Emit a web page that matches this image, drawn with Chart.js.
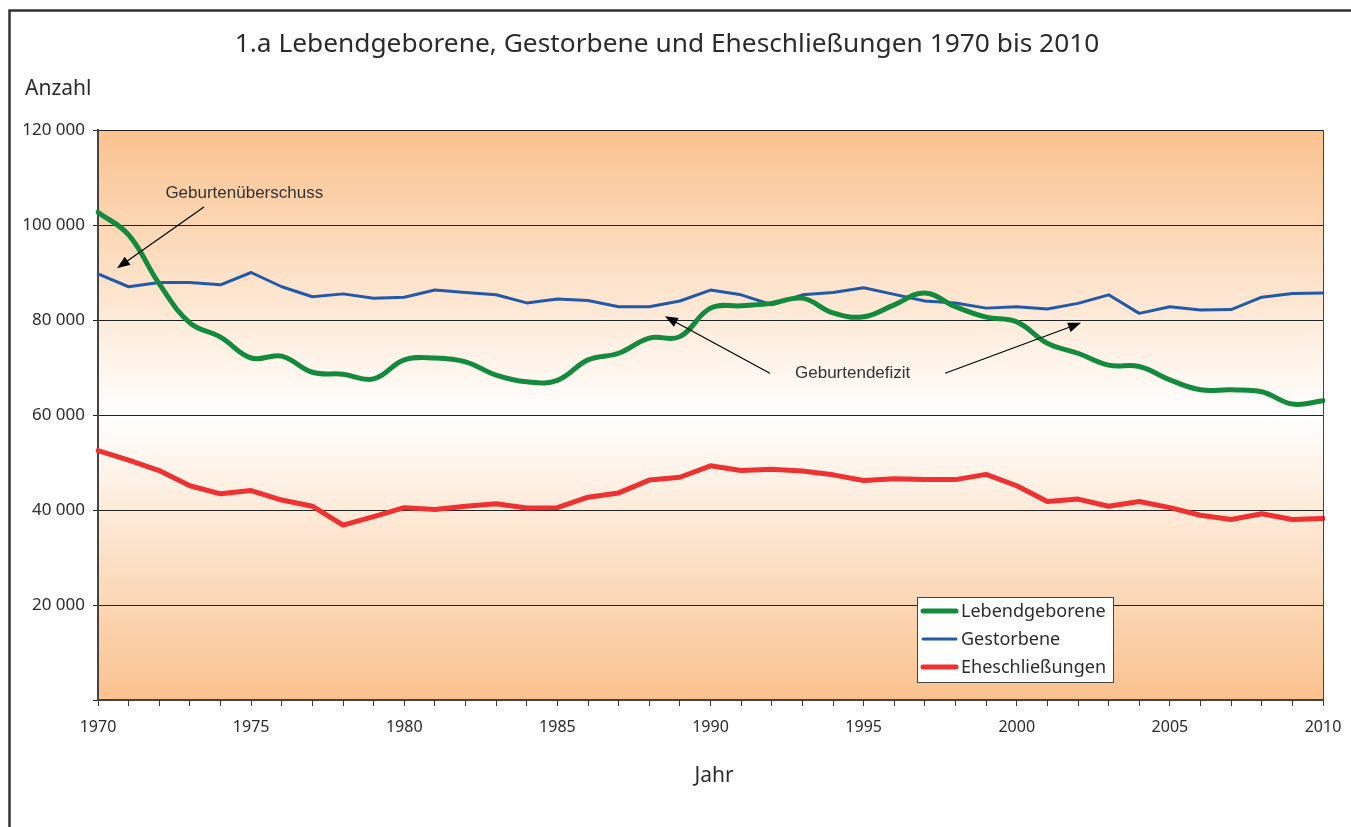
<!DOCTYPE html>
<html lang="de">
<head>
<meta charset="utf-8">
<title>Lebendgeborene, Gestorbene und Eheschließungen 1970 bis 2010</title>
<script src="https://cdn.jsdelivr.net/npm/chart.js@4.4.1/dist/chart.umd.min.js"></script>
<style>
  html, body { margin: 0; padding: 0; background: #fff; }
  #wrap { position: relative; width: 1351px; height: 827px; }
</style>
</head>
<body>
<div id="wrap"><canvas id="chart" width="1351" height="827"></canvas></div>
<script>
'use strict';

// Years (categories)
const years = [
    1970, 1971, 1972, 1973, 1974, 1975, 1976, 1977, 1978, 1979,
    1980, 1981, 1982, 1983, 1984, 1985, 1986, 1987, 1988, 1989,
    1990, 1991, 1992, 1993, 1994, 1995, 1996, 1997, 1998, 1999,
    2000, 2001, 2002, 2003, 2004, 2005, 2006, 2007, 2008, 2009, 2010
];

// Series values
const lebendgeborene = [
    102700, 97900, 87600, 79400, 76400, 72000, 72400, 69000, 68600, 67600,
    71600, 72000, 71200, 68400, 67000, 67300, 71600, 73000, 76200, 76500,
    82500, 83000, 83500, 84600, 81500, 80700, 83200, 85700, 82800, 80600,
    79600, 75100, 73000, 70500, 70200, 67400, 65300, 65300, 64900, 62300, 63000
];
const gestorbene = [
    89700, 87000, 87900, 87900, 87400, 90000, 87000, 84900, 85500, 84600,
    84800, 86300, 85800, 85300, 83600, 84400, 84100, 82800, 82800, 84000,
    86300, 85300, 83200, 85300, 85800, 86800, 85400, 84000, 83600, 82500,
    82800, 82300, 83500, 85300, 81400, 82800, 82100, 82200, 84800, 85600, 85700
];
const eheschliessungen = [
    52500, 50500, 48300, 45100, 43400, 44100, 42100, 40800, 36800, 38600,
    40500, 40100, 40800, 41300, 40400, 40500, 42700, 43600, 46300, 46900,
    49300, 48300, 48600, 48200, 47400, 46200, 46600, 46400, 46400, 47500,
    45100, 41800, 42300, 40800, 41800, 40500, 38900, 38000, 39200, 38000, 38200
];

const seriesNames = ['Lebendgeborene', 'Gestorbene', 'Eheschließungen'];
const seriesColors = ['#148a3e', '#2359a8', '#ee3131'];
const seriesWidths = [5, 3, 5];

// Annotations in data units: [year, value]
const labelTexts = ['Geburtenüberschuss', 'Geburtendefizit'];
const labelAt = [[1972.2, 106700], [1992.76, 68800]];
const arrows = [
    [[1973.46, 103800], [1970.62, 90900]],
    [[1991.94, 68800], [1988.51, 80800]],
    [[1997.66, 68800], [2002.1, 79400]]
];

const FONT = '"Noto Sans", "Open Sans", sans-serif';
const ANNOT_FONT = '"Liberation Sans", Arial, sans-serif';
const TEXT_COLOR = '#2b2b2b';

/**
 * Format numbers with a space as thousands separator
 */
function formatThousands(v) {
    return String(v).replace(/\B(?=(\d{3})+(?!\d))/g, ' ');
}

/**
 * Draw a line with a filled arrow head at its end
 */
function drawArrow(ctx, x1, y1, x2, y2) {
    const angle = Math.atan2(y2 - y1, x2 - x1);
    const len = 13;
    const half = 5;
    ctx.save();
    ctx.strokeStyle = '#000';
    ctx.fillStyle = '#000';
    ctx.lineWidth = 1.2;
    ctx.beginPath();
    ctx.moveTo(x1, y1);
    ctx.lineTo(x2 - Math.cos(angle) * len * 0.8, y2 - Math.sin(angle) * len * 0.8);
    ctx.stroke();
    ctx.beginPath();
    ctx.moveTo(x2, y2);
    ctx.lineTo(x2 - Math.cos(angle) * len + Math.sin(angle) * half,
               y2 - Math.sin(angle) * len - Math.cos(angle) * half);
    ctx.lineTo(x2 - Math.cos(angle) * len - Math.sin(angle) * half,
               y2 - Math.sin(angle) * len + Math.cos(angle) * half);
    ctx.closePath();
    ctx.fill();
    ctx.restore();
}

const decorPlugin = {
    id: 'decor',
    beforeDraw(chart) {
        const { ctx, chartArea: a } = chart;
        ctx.save();
        ctx.fillStyle = '#fff';
        ctx.fillRect(0, 0, chart.width, chart.height);
        // orange - white - orange background of the plot area
        const g = ctx.createLinearGradient(0, a.top, 0, a.bottom);
        g.addColorStop(0, '#fac28e');
        g.addColorStop(0.5, '#ffffff');
        g.addColorStop(1, '#fac28e');
        ctx.fillStyle = g;
        ctx.fillRect(a.left, a.top, a.right - a.left, a.bottom - a.top);
        ctx.restore();
    },
    afterDraw(chart) {
        const { ctx, chartArea: a } = chart;
        const xs = chart.scales.x;
        const ys = chart.scales.y;
        const px = yr => xs.getPixelForValue(yr - years[0]);
        const py = v => ys.getPixelForValue(v);

        ctx.save();

        // right border of the plot area
        ctx.strokeStyle = '#444';
        ctx.lineWidth = 1;
        ctx.beginPath();
        ctx.moveTo(a.right + 0.5, a.top);
        ctx.lineTo(a.right + 0.5, a.bottom);
        ctx.stroke();

        // outer frame (left and top)
        ctx.strokeStyle = '#333';
        ctx.lineWidth = 2.5;
        ctx.beginPath();
        ctx.moveTo(9.5, chart.height);
        ctx.lineTo(9.5, 10.5);
        ctx.lineTo(chart.width, 10.5);
        ctx.stroke();

        // title and axis titles
        ctx.fillStyle = TEXT_COLOR;
        ctx.textBaseline = 'middle';
        ctx.textAlign = 'center';
        ctx.font = '26.3px ' + FONT;
        ctx.fillText('1.a Lebendgeborene, Gestorbene und Eheschließungen 1970 bis 2010', 667, 45);
        ctx.font = '21px ' + FONT;
        ctx.fillText('Jahr', 714, 776);
        ctx.textAlign = 'left';
        ctx.fillText('Anzahl', 25, 89);

        // annotations
        ctx.font = '17px ' + ANNOT_FONT;
        ctx.fillStyle = '#333';
        labelTexts.forEach((t, i) => {
            ctx.fillText(t, px(labelAt[i][0]), py(labelAt[i][1]));
        });
        arrows.forEach(ar => {
            drawArrow(ctx, px(ar[0][0]), py(ar[0][1]), px(ar[1][0]), py(ar[1][1]));
        });

        // legend box
        const lx = 917, ly = 597, lw = 196, lh = 85;
        ctx.fillStyle = '#fff';
        ctx.fillRect(lx, ly, lw, lh);
        ctx.strokeStyle = '#444';
        ctx.lineWidth = 1;
        ctx.strokeRect(lx + 0.5, ly + 0.5, lw, lh);
        ctx.font = '18px ' + FONT;
        ctx.textAlign = 'left';
        seriesNames.forEach((name, i) => {
            const y = ly + 14 + i * 28;
            ctx.strokeStyle = seriesColors[i];
            ctx.lineWidth = seriesWidths[i];
            ctx.lineCap = 'round';
            ctx.beginPath();
            ctx.moveTo(lx + 6, y);
            ctx.lineTo(lx + 39, y);
            ctx.stroke();
            ctx.fillStyle = TEXT_COLOR;
            ctx.fillText(name, lx + 44, y + 1);
        });

        ctx.restore();
    }
};

const datasets = [lebendgeborene, gestorbene, eheschliessungen].map((values, i) => ({
    label: seriesNames[i],
    data: values,
    borderColor: seriesColors[i],
    backgroundColor: seriesColors[i],
    borderWidth: seriesWidths[i],
    pointRadius: 0,
    tension: i === 0 ? 0.4 : 0,
    borderCapStyle: 'round',
    borderJoinStyle: 'round',
    fill: false
}));

new Chart(document.getElementById('chart'), {
    type: 'line',
    data: { labels: years, datasets: datasets },
    plugins: [decorPlugin],
    options: {
        responsive: false,
        animation: false,
        layout: { padding: { top: 130, right: 28, left: 0, bottom: 0 } },
        plugins: {
            legend: { display: false },
            title: { display: false },
            tooltip: { enabled: false }
        },
        scales: {
            x: {
                type: 'category',
                offset: false,
                grid: {
                    display: true,
                    drawOnChartArea: false,
                    drawTicks: true,
                    tickLength: 6,
                    color: '#333'
                },
                border: { display: true, color: '#444', width: 2 },
                ticks: {
                    autoSkip: false,
                    maxRotation: 0,
                    padding: 12,
                    color: TEXT_COLOR,
                    font: { family: FONT, size: 16 },
                    callback: (v, i) => (years[i] % 5 === 0 ? String(years[i]) : '')
                },
                afterFit: s => {
                    s.height = 127;
                    s.paddingLeft = 0;
                    s.paddingRight = 0;
                }
            },
            y: {
                min: 0,
                max: 120000,
                grid: {
                    color: '#222',
                    lineWidth: 1,
                    drawTicks: true,
                    tickLength: 5
                },
                border: { display: true, color: '#444', width: 2 },
                ticks: {
                    stepSize: 20000,
                    padding: 8,
                    color: TEXT_COLOR,
                    font: { family: FONT, size: 17 },
                    callback: v => (v === 0 ? '' : formatThousands(v))
                },
                afterFit: s => {
                    s.width = 98;
                    s.paddingTop = 0;
                    s.paddingBottom = 0;
                }
            }
        }
    }
});
</script>
</body>
</html>
